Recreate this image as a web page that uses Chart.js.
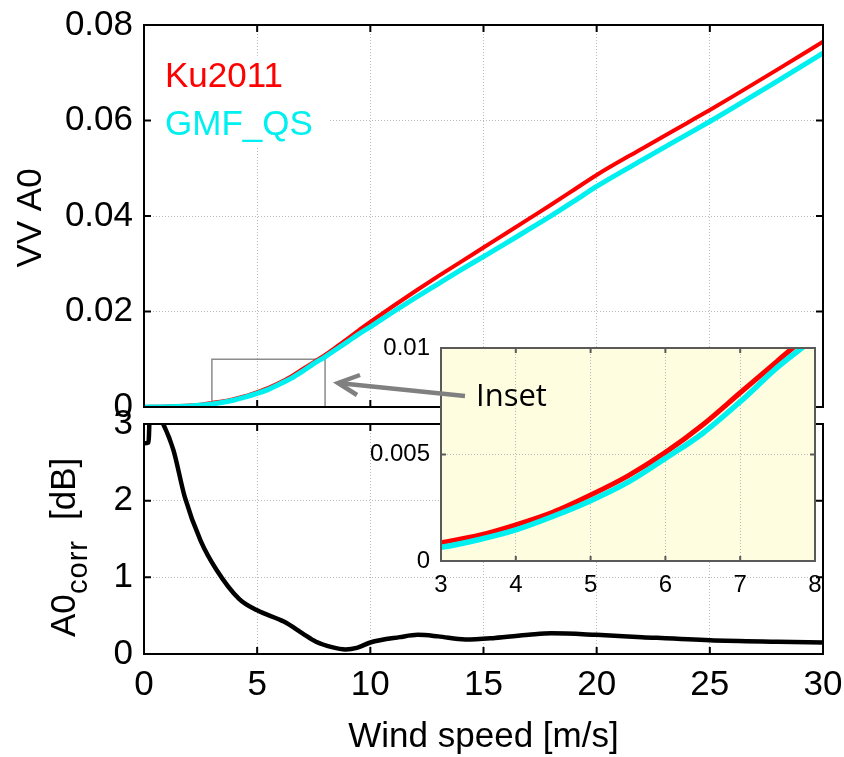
<!DOCTYPE html>
<html>
<head>
<meta charset="utf-8">
<script src="https://cdn.jsdelivr.net/npm/chart.js@4.4.1/dist/chart.umd.min.js"></script>
<style>
  html, body { margin: 0; padding: 0; background: #fff; }
  #wrap { position: relative; width: 844px; height: 757px; overflow: hidden; }
  canvas { position: absolute; }
</style>
</head>
<body>
<div id="wrap">
  <canvas id="a0Chart" width="844" height="440" style="left:0;top:0;width:844px;height:440px"></canvas>
  <canvas id="corrChart" width="844" height="377" style="left:0;top:380px;width:844px;height:377px"></canvas>
  <canvas id="insetChart" width="510" height="280" style="left:330px;top:330px;width:510px;height:280px"></canvas>
</div>
<script>
// wind speed grid for the two model curves (m/s)
const windSpeed = [0, 1, 2, 2.5, 3, 3.5, 4, 4.5, 5, 5.5, 6, 6.5, 7, 7.5, 8, 8.5, 9, 9.5, 10,
  11, 12, 13, 14, 15, 16, 17, 18, 19, 20, 22, 24, 25, 26, 28, 30];
const ku2011 = [0, 0.0001, 0.0003, 0.0005, 0.00086, 0.0012, 0.0017, 0.0023, 0.0031, 0.0040,
  0.0051, 0.0064, 0.0079, 0.0094, 0.0109, 0.0126, 0.0143, 0.0161, 0.0178,
  0.0211, 0.0243, 0.0274, 0.0304, 0.0334, 0.0364, 0.0394, 0.0424, 0.0455, 0.0486,
  0.0541, 0.0595, 0.0622, 0.0650, 0.0707, 0.0765];
const gmfQS = [0, 0.00005, 0.0002, 0.0004, 0.00064, 0.0010, 0.00146, 0.0021, 0.00283, 0.0037,
  0.00482, 0.0060, 0.00748, 0.0091, 0.0105, 0.0121, 0.0137, 0.0153, 0.0168,
  0.0199, 0.0229, 0.0258, 0.0287, 0.0315, 0.0343, 0.0372, 0.0401, 0.0431, 0.0462,
  0.0517, 0.0571, 0.0598, 0.0626, 0.0683, 0.0741];
const seriesNames = ['Ku2011', 'GMF_QS'];

// A0 correction in dB
const corrSpeed = [0, 0.2, 0.28, 0.45, 0.65, 0.85, 1.3, 1.8, 2.5, 3.2, 4.2, 5.0, 6.2, 7.0, 7.6,
  8.3, 8.9, 9.4, 10, 11.3, 12.1, 13.0, 14.2, 15.5, 17, 18, 20, 22, 25, 28, 30];
const a0corr = [2.75, 2.76, 3.4, 3.5, 3.1, 3.0, 2.66, 2.05, 1.48, 1.1, 0.72, 0.57, 0.42, 0.27, 0.16,
  0.09, 0.06, 0.08, 0.15, 0.22, 0.25, 0.23, 0.19, 0.21, 0.25, 0.27, 0.25, 0.22, 0.18, 0.16, 0.15];

// axes
const xTicks = [0, 5, 10, 15, 20, 25, 30];
const xLabels = ['0', '5', '10', '15', '20', '25', '30'];
const a0Ticks = [0, 0.02, 0.04, 0.06, 0.08];
const a0Labels = ['0', '0.02', '0.04', '0.06', '0.08'];
const corrTicks = [0, 1, 2, 3];
const corrLabels = ['0', '1', '2', '3'];
const zoomX = [3, 8];
const zoomY = [0, 0.01];
const insetXTicks = [3, 4, 5, 6, 7, 8];
const insetXLabels = ['3', '4', '5', '6', '7', '8'];
const insetYTicks = [0, 0.005, 0.01];
const insetYLabels = ['0', '0.005', '0.01'];

const RED = '#ff0000';
const CYAN = '#00f0f0';
const FONT = '"Liberation Sans", Arial, Helvetica, sans-serif';

Chart.defaults.font.family = FONT;
Chart.defaults.color = '#000';

const pts = (xs, ys) => xs.map((x, i) => ({ x: x, y: ys[i] }));

function axis(min, max, ticks, labels, opts) {
  return {
    type: 'linear',
    min: min,
    max: max,
    afterBuildTicks: s => { s.ticks = ticks.map(v => ({ value: v })); },
    afterFit: s => {
      if (opts.width !== undefined) s.width = opts.width;
      if (opts.height !== undefined) s.height = opts.height;
      // labels may hang past the plot edges; don't let them shrink the plot
      s.paddingLeft = s.paddingRight = s.paddingTop = s.paddingBottom = 0;
    },
    ticks: {
      display: opts.showLabels !== false,
      callback: (v, i) => labels[i],
      font: { size: opts.size || 35 },
      color: '#000',
      padding: opts.pad || 10,
      maxRotation: 0,
      autoSkip: false
    },
    grid: { color: '#b8b8b8', lineWidth: 1, drawTicks: false },
    border: { display: false, dash: [1, 2] }
  };
}

// box around the plot area with inward tick marks on all four sides
function frame(color, width, len) {
  return {
    id: 'frame',
    afterDatasetsDraw(chart) {
      const { ctx, chartArea: a, scales: { x, y } } = chart;
      ctx.save();
      ctx.strokeStyle = color;
      ctx.lineWidth = width;
      ctx.beginPath();
      x.ticks.forEach(t => {
        const p = x.getPixelForValue(t.value);
        ctx.moveTo(p, a.bottom); ctx.lineTo(p, a.bottom - len);
        ctx.moveTo(p, a.top); ctx.lineTo(p, a.top + len);
      });
      y.ticks.forEach(t => {
        const p = y.getPixelForValue(t.value);
        ctx.moveTo(a.left, p); ctx.lineTo(a.left + len, p);
        ctx.moveTo(a.right, p); ctx.lineTo(a.right - len, p);
      });
      ctx.stroke();
      ctx.strokeRect(a.left, a.top, a.width, a.height);
      ctx.restore();
    }
  };
}

const lineDefaults = { pointRadius: 0, fill: false, cubicInterpolationMode: 'monotone', clip: 0 };

// upper panel: VV A0
new Chart(document.getElementById('a0Chart'), {
  type: 'line',
  data: {
    datasets: [
      Object.assign({ label: seriesNames[1], data: pts(windSpeed, gmfQS), borderColor: CYAN, borderWidth: 5, order: 0 }, lineDefaults),
      Object.assign({ label: seriesNames[0], data: pts(windSpeed, ku2011), borderColor: RED, borderWidth: 4, order: 1 }, lineDefaults)
    ]
  },
  options: {
    responsive: false,
    animation: false,
    layout: { padding: { top: 25, right: 21, bottom: 33, left: 0 } },
    plugins: { legend: { display: false }, tooltip: { enabled: false } },
    scales: {
      x: axis(0, 30, xTicks, xLabels, { height: 0, showLabels: false }),
      y: axis(0, 0.08, a0Ticks, a0Labels, { width: 144, pad: 11 })
    }
  },
  plugins: [frame('#000', 2, 7), {
    id: 'a0Extras',
    beforeDatasetsDraw(chart) {
      const { ctx, scales: { x, y } } = chart;
      ctx.save();
      ctx.fillStyle = '#fff';
      ctx.fillRect(146, 57, 183, 90);
      ctx.strokeStyle = '#8c8c8c';
      ctx.lineWidth = 1.5;
      const x0 = x.getPixelForValue(zoomX[0]), x1 = x.getPixelForValue(zoomX[1]);
      const y0 = y.getPixelForValue(zoomY[0]), y1 = y.getPixelForValue(zoomY[1]);
      ctx.strokeRect(x0, y1, x1 - x0, y0 - y1);
      ctx.restore();
    },
    afterDraw(chart) {
      const ctx = chart.ctx;
      ctx.save();
      ctx.font = '35px ' + FONT;
      ctx.textBaseline = 'alphabetic';
      ctx.fillStyle = RED;
      ctx.fillText(seriesNames[0], 165, 87);
      ctx.fillStyle = CYAN;
      ctx.fillText(seriesNames[1], 165, 135);
      ctx.fillStyle = '#000';
      ctx.translate(31, 218);
      ctx.rotate(-Math.PI / 2);
      ctx.textAlign = 'center';
      ctx.textBaseline = 'middle';
      ctx.fillText('VV A0', 0, 0);
      ctx.restore();
    }
  }]
});

// lower panel: A0 correction
new Chart(document.getElementById('corrChart'), {
  type: 'line',
  data: {
    datasets: [
      Object.assign({ label: 'A0corr', data: pts(corrSpeed, a0corr), borderColor: '#000', borderWidth: 4.5 }, lineDefaults)
    ]
  },
  options: {
    responsive: false,
    animation: false,
    layout: { padding: { top: 44, right: 21, bottom: 0, left: 0 } },
    plugins: { legend: { display: false }, tooltip: { enabled: false } },
    scales: {
      x: axis(0, 30, xTicks, xLabels, { height: 103, pad: 10 }),
      y: axis(0, 3, corrTicks, corrLabels, { width: 144, pad: 11 })
    }
  },
  plugins: [frame('#000', 2, 7), {
    id: 'corrTitles',
    afterDraw(chart) {
      const ctx = chart.ctx;
      const a = chart.chartArea;
      ctx.save();
      ctx.fillStyle = '#000';
      ctx.font = '35px ' + FONT;
      ctx.textAlign = 'center';
      ctx.textBaseline = 'alphabetic';
      ctx.fillText('Wind speed [m/s]', (a.left + a.right) / 2, 367);
      // rotated y title with subscript
      ctx.translate(75, 257);
      ctx.rotate(-Math.PI / 2);
      ctx.textAlign = 'left';
      ctx.fillText('A0', 0, 0);
      ctx.font = '29px ' + FONT;
      ctx.letterSpacing = '1px';
      ctx.fillText('corr', 43, 12);
      ctx.letterSpacing = '0px';
      ctx.font = '35px ' + FONT;
      ctx.fillText('[dB]', 117, 0);
      ctx.restore();
    }
  }]
});

// zoomed view of the low wind range
new Chart(document.getElementById('insetChart'), {
  type: 'line',
  data: {
    datasets: [
      Object.assign({ label: seriesNames[1], data: pts(windSpeed, gmfQS), borderColor: CYAN, borderWidth: 5.5, order: 0 }, lineDefaults),
      Object.assign({ label: seriesNames[0], data: pts(windSpeed, ku2011), borderColor: RED, borderWidth: 5, order: 1 }, lineDefaults)
    ]
  },
  options: {
    responsive: false,
    animation: false,
    layout: { padding: { top: 18, right: 25, bottom: 0, left: 0 } },
    plugins: { legend: { display: false }, tooltip: { enabled: false } },
    scales: {
      x: axis(zoomX[0], zoomX[1], insetXTicks, insetXLabels, { height: 49, size: 24, pad: 10 }),
      y: axis(zoomY[0], zoomY[1], insetYTicks, insetYLabels, { width: 111, size: 24, pad: 11 })
    }
  },
  plugins: [{
    id: 'insetBg',
    beforeDraw(chart) {
      const { ctx, chartArea: a } = chart;
      ctx.save();
      ctx.fillStyle = '#fffde0';
      ctx.fillRect(a.left, a.top, a.width, a.height);
      ctx.restore();
    }
  }, frame('#5a5a5a', 2, 5), {
    id: 'insetCallout',
    afterDraw(chart) {
      const ctx = chart.ctx;
      ctx.save();
      ctx.strokeStyle = '#808080';
      ctx.lineWidth = 4.5;
      ctx.lineCap = 'butt';
      ctx.beginPath();
      ctx.moveTo(135, 66);
      ctx.lineTo(8, 53);
      ctx.stroke();
      ctx.beginPath();
      ctx.moveTo(30, 45);
      ctx.lineTo(8, 53);
      ctx.lineTo(27, 65);
      ctx.lineJoin = 'miter';
      ctx.stroke();
      ctx.fillStyle = '#000';
      ctx.font = '31px "Open Sans", "Noto Sans", sans-serif';
      ctx.textBaseline = 'alphabetic';
      ctx.fillText('Inset', 146, 76);
      ctx.restore();
    }
  }]
});
</script>
</body>
</html>
